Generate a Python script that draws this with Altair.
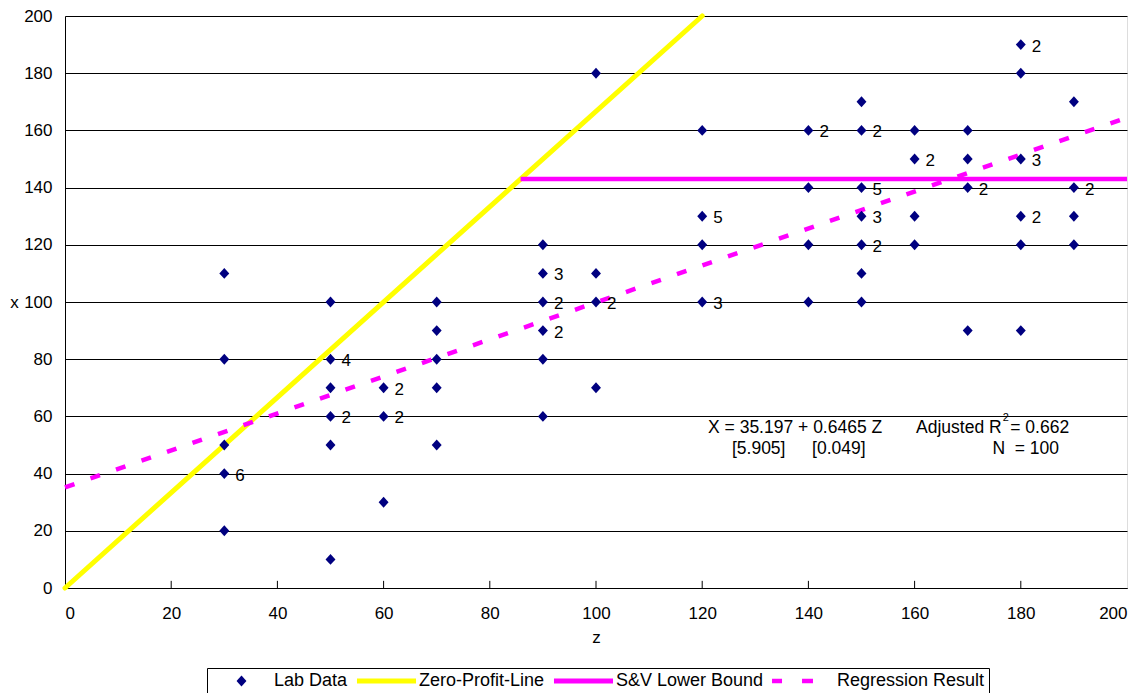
import altair as alt
import pandas as pd

# ---------------- data ----------------
# distinct lab observations (z, x) and how many subjects share each point
lab_z = [30, 30, 30, 30, 30,
         50, 50, 50, 50, 50, 50,
         60, 60, 60,
         70, 70, 70, 70, 70,
         90, 90, 90, 90, 90, 90,
         100, 100, 100, 100,
         120, 120, 120, 120,
         140, 140, 140, 140,
         150, 150, 150, 150, 150, 150, 150,
         160, 160, 160, 160,
         170, 170, 170, 170,
         180, 180, 180, 180, 180, 180,
         190, 190, 190, 190]
lab_x = [110, 80, 50, 40, 20,
         100, 80, 70, 60, 50, 10,
         70, 60, 30,
         100, 90, 80, 70, 50,
         120, 110, 100, 90, 80, 60,
         180, 110, 100, 70,
         160, 130, 120, 100,
         160, 140, 120, 100,
         170, 160, 140, 130, 120, 110, 100,
         160, 150, 130, 120,
         160, 150, 140, 90,
         190, 180, 150, 130, 120, 90,
         170, 140, 130, 120]
lab_n = [1, 1, 1, 6, 1,
         1, 4, 1, 2, 1, 1,
         2, 2, 1,
         1, 1, 1, 1, 1,
         1, 3, 2, 2, 1, 1,
         1, 1, 2, 1,
         1, 5, 1, 3,
         2, 1, 1, 1,
         1, 2, 5, 3, 2, 1, 1,
         1, 2, 1, 1,
         1, 1, 2, 1,
         2, 1, 3, 2, 1, 1,
         1, 2, 1, 1]

# line series (end points)
zp_z = [0, 120]
zp_x = [0, 200]
sv_z = [85.8, 200]
sv_x = [143, 143]
reg_z = [0, 200]
reg_x = [35.197, 164.497]

series_names = ["Lab Data", "Zero-Profit-Line", "S&V Lower Bound", "Regression Result"]
series_colors = ["#000080", "#FFFF00", "#FF00FF", "#FF00FF"]

tick_vals = [0, 20, 40, 60, 80, 100, 120, 140, 160, 180, 200]

NB = "\u00a0"
ann_text = ["X = 35.197 + 0.6465 Z", "Adjusted R", "2", "= 0.662",
            "[5.905]", "[0.049]", "N" + NB + NB + "= 100"]
ann_z = [121.1, 176.4, 176.6, 189.1, 125.6, 140.7, 187.2]
ann_x = [55.9, 55.9, 59.6, 55.9, 48.6, 48.6, 48.6]
ann_align = ["left", "right", "left", "right", "left", "left", "right"]
ann_size = [17.5, 17.5, 11, 17.5, 17.5, 17.5, 17.5]

FONT = "Liberation Sans"

# ---------------- frames ----------------
lab = pd.DataFrame({"z": lab_z, "x": lab_x, "n": lab_n, "series": "Lab Data"})
zp = pd.DataFrame({"z": zp_z, "x": zp_x})
sv = pd.DataFrame({"z": sv_z, "x": sv_x})
reg = pd.DataFrame({"z": reg_z, "x": reg_x})
ticks_df = pd.DataFrame({"z": tick_vals[1:-1]})
ann = pd.DataFrame({"t": ann_text, "z": ann_z, "x": ann_x,
                    "align": ann_align, "size": ann_size})

xs = alt.Scale(domain=[0, 200], nice=False, zero=False)
ys = alt.Scale(domain=[0, 200], nice=False, zero=False)

x_axis = alt.Axis(values=tick_vals, title="z", grid=False, ticks=False,
                  labelPadding=17, titlePadding=8, domainColor="#000000",
                  labelFontSize=17, titleFontSize=17, titleFontWeight="normal",
                  labelColor="#000000", titleColor="#000000", labelFont=FONT, titleFont=FONT)
y_axis = alt.Axis(values=tick_vals, title="x", grid=True, gridColor="#000000", gridWidth=1,
                  ticks=False, labelPadding=13, domainColor="#000000",
                  labelFontSize=17, titleFontSize=17, titleFontWeight="normal",
                  titleAngle=0, titleX=-51, titleY=286, titleAlign="center",
                  titleBaseline="middle",
                  labelColor="#000000", titleColor="#000000", labelFont=FONT, titleFont=FONT)

X = alt.X("z:Q", scale=xs, axis=x_axis)
Y = alt.Y("x:Q", scale=ys, axis=y_axis)

# legend symbols as custom paths (unit = 8px for size 256)
diamond = "M0,-0.68L0.62,0L0,0.68L-0.62,0Z"
solid = "M-3.69,-0.31H3.69V0.31H-3.69Z"
dashed = "M-4.06,-0.28H-2.81V0.28H-4.06Z M-0.31,-0.28H1.06V0.28H-0.31Z"
shapes = [diamond, solid, solid, dashed]

leg = alt.Legend(title=None, orient="none", legendX=142, legendY=652,
                 direction="horizontal", columns=4, strokeColor="#000000",
                 padding=4, symbolSize=256, symbolOffset=21.5, labelOffset=23.5,
                 columnPadding=8, labelFontSize=18, labelFont=FONT,
                 labelColor="#000000", symbolStrokeWidth=0)

ticks_layer = alt.Chart(ticks_df).mark_rule(color="#000000", strokeWidth=1).encode(
    x=alt.X("z:Q", scale=xs), y=alt.datum(0), y2=alt.datum(2.5))

zp_layer = alt.Chart(zp).mark_line(color="#FFFF00", strokeWidth=5, strokeCap="round").encode(x=X, y=Y)
sv_layer = alt.Chart(sv).mark_line(color="#FF00FF", strokeWidth=4.5).encode(x=X, y=Y)
reg_layer = alt.Chart(reg).mark_line(color="#FF00FF", strokeWidth=4.5,
                                     strokeDash=[10, 17]).encode(x=X, y=Y)

pts = alt.Chart(lab).mark_point(filled=True, size=256, opacity=1, strokeWidth=0).encode(
    x=X, y=Y,
    color=alt.Color("series:N", scale=alt.Scale(domain=series_names, range=series_colors), legend=leg),
    shape=alt.Shape("series:N", scale=alt.Scale(domain=series_names, range=shapes), legend=leg),
)

counts = alt.Chart(lab).transform_filter("datum.n > 1").mark_text(
    align="left", baseline="middle", dx=11, dy=2, fontSize=17, font=FONT, color="#000000"
).encode(x=X, y=Y, text="n:Q")

ann_layers = []
for i in range(len(ann_text)):
    ann_layers.append(
        alt.Chart(ann.iloc[[i]]).mark_text(
            align=ann_align[i], baseline="middle", fontSize=ann_size[i], font=FONT, color="#000000"
        ).encode(x=X, y=Y, text="t:N")
    )

chart = alt.layer(ticks_layer, zp_layer, sv_layer, reg_layer, pts, counts, *ann_layers).properties(
    width=1062, height=572,
    autosize=alt.AutoSizeParams(type="none"),
    padding={"left": 57, "top": 8, "right": 10, "bottom": 105},
).configure_view(stroke="#8c8c8c", strokeWidth=1).configure(font=FONT)

chart.save("out.html", embed_options={"renderer": "svg", "actions": False})
